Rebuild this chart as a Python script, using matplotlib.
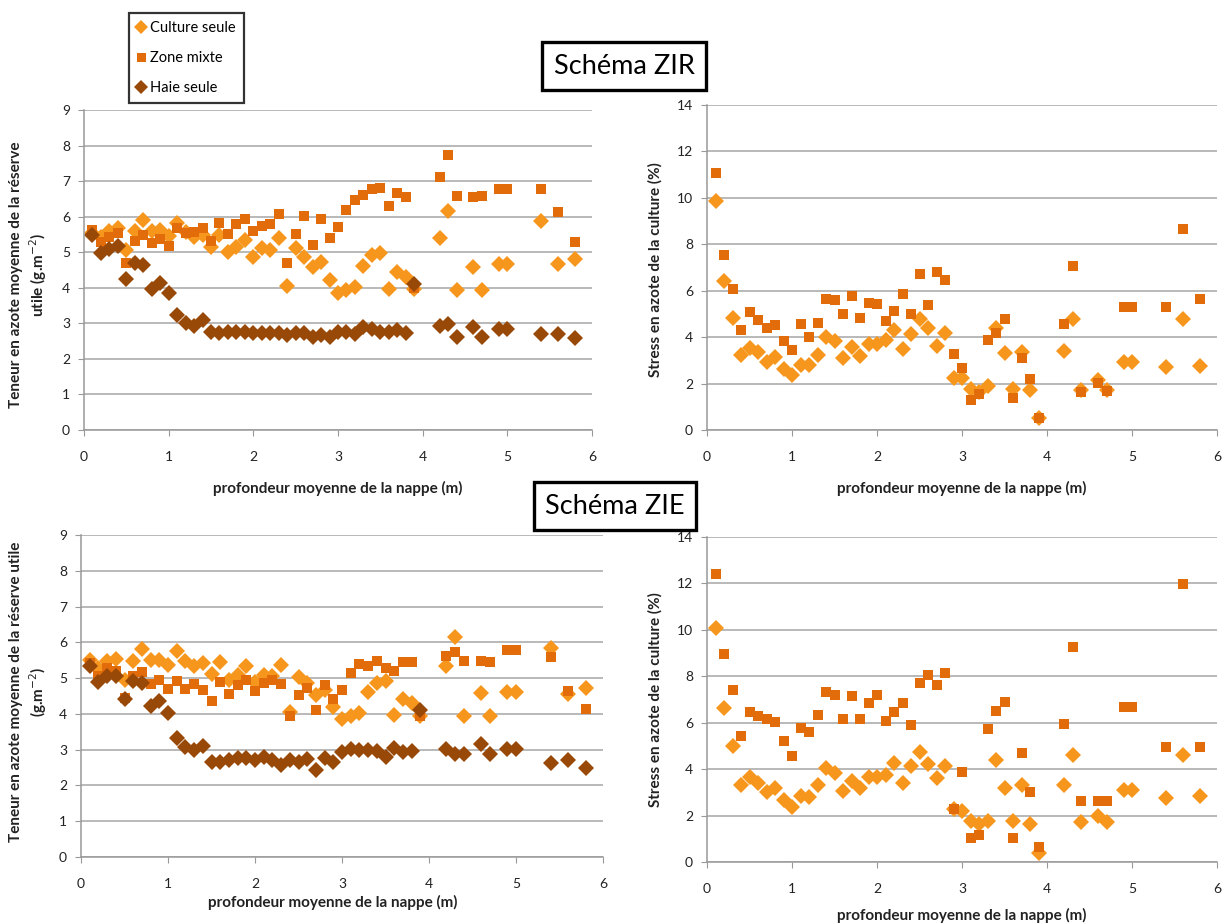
import numpy as np
import matplotlib
matplotlib.use('Agg')
import matplotlib.pyplot as plt

plt.rcParams['font.family'] = ['Lato', 'DejaVu Sans']

# profondeur moyenne de la nappe (m)
depth = [0.1, 0.2, 0.3, 0.4, 0.5, 0.6, 0.7, 0.8, 0.9, 1.0,
         1.1, 1.2, 1.3, 1.4, 1.5, 1.6, 1.7, 1.8, 1.9, 2.0,
         2.1, 2.2, 2.3, 2.4, 2.5, 2.6, 2.7, 2.8, 2.9, 3.0,
         3.1, 3.2, 3.3, 3.4, 3.5, 3.6, 3.7, 3.8, 3.9,
         4.2, 4.3, 4.4, 4.6, 4.7, 4.9, 5.0, 5.4, 5.6, 5.8]

# Schéma ZIR - teneur en azote (g.m-2)
culture_zir_n = [5.53, 5.42, 5.60, 5.67, 5.06, 5.60, 5.90, 5.60, 5.62, 5.45,
                 5.81, 5.58, 5.42, 5.48, 5.15, 5.48, 5.01, 5.15, 5.34, 4.87,
                 5.11, 5.06, 5.39, 4.05, 5.11, 4.87, 4.59, 4.73, 4.22, 3.86,
                 3.94, 4.01, 4.62, 4.92, 4.99, 3.96, 4.45, 4.31, 3.96,
                 5.39, 6.16, 3.94, 4.59, 3.94, 4.66, 4.66, 5.88, 4.66, 4.80]
zone_zir_n = [5.62, 5.30, 5.44, 5.53, 4.69, 5.32, 5.48, 5.25, 5.36, 5.17,
              5.67, 5.53, 5.58, 5.67, 5.32, 5.81, 5.51, 5.79, 5.93, 5.60,
              5.74, 5.79, 6.07, 4.71, 5.51, 6.03, 5.20, 5.93, 5.39, 5.72,
              6.19, 6.47, 6.61, 6.79, 6.81, 6.30, 6.67, 6.54, 3.98,
              7.12, 7.73, 6.58, 6.54, 6.58, 6.78, 6.78, 6.79, 6.14, 5.30]
haie_zir_n = [5.48, 4.99, 5.09, 5.17, 4.24, 4.70, 4.64, 3.97, 4.14, 3.84,
              3.23, 3.02, 2.92, 3.09, 2.76, 2.74, 2.76, 2.76, 2.76, 2.72,
              2.74, 2.74, 2.74, 2.67, 2.74, 2.72, 2.61, 2.67, 2.62, 2.76,
              2.76, 2.69, 2.91, 2.84, 2.76, 2.76, 2.81, 2.74, 4.12,
              2.93, 2.98, 2.61, 2.91, 2.61, 2.84, 2.84, 2.69, 2.69, 2.58]

# Schéma ZIR - stress en azote (%)
culture_zir_s = [9.88, 6.42, 4.84, 3.23, 3.52, 3.37, 2.91, 3.13, 2.61, 2.37,
                 2.80, 2.80, 3.23, 3.99, 3.85, 3.09, 3.59, 3.19, 3.69, 3.69,
                 3.88, 4.31, 3.47, 4.12, 4.78, 4.41, 3.62, 4.16, 2.23, 2.23,
                 1.75, 1.65, 1.90, 4.41, 3.30, 1.78, 3.35, 1.72, 0.50,
                 3.42, 4.78, 1.72, 2.15, 1.72, 2.91, 2.91, 2.70, 4.78, 2.77]
zone_zir_s = [11.08, 7.54, 6.07, 4.31, 5.07, 4.74, 4.41, 4.52, 3.85, 3.45,
              4.55, 4.02, 4.59, 5.64, 5.60, 4.98, 5.77, 4.81, 5.48, 5.43,
              4.71, 5.14, 5.86, 4.98, 6.70, 5.38, 6.82, 6.46, 3.26, 2.66,
              1.29, 1.54, 3.88, 4.19, 4.78, 1.36, 3.09, 2.20, 0.50,
              4.55, 7.06, 1.65, 2.01, 1.68, 5.31, 5.31, 5.31, 8.66, 5.64]

# Schéma ZIE - teneur en azote (g.m-2)
culture_zie_n = [5.51, 5.28, 5.47, 5.53, 4.95, 5.48, 5.81, 5.51, 5.51, 5.37,
                 5.77, 5.47, 5.34, 5.42, 5.12, 5.44, 4.95, 5.09, 5.33, 4.88,
                 5.09, 5.05, 5.37, 4.04, 5.02, 4.86, 4.53, 4.67, 4.18, 3.86,
                 3.93, 4.02, 4.61, 4.86, 4.93, 3.98, 4.41, 4.30, 3.93,
                 5.35, 6.15, 3.93, 4.58, 3.93, 4.61, 4.61, 5.84, 4.56, 4.72]
zone_zie_n = [5.42, 5.05, 5.28, 5.19, 4.45, 5.07, 5.17, 4.84, 4.95, 4.69,
              4.93, 4.70, 4.83, 4.66, 4.35, 4.89, 4.56, 4.81, 4.95, 4.65,
              4.86, 4.95, 4.83, 3.93, 4.52, 4.72, 4.10, 4.80, 4.42, 4.68,
              5.14, 5.40, 5.35, 5.48, 5.28, 5.21, 5.44, 5.44, 3.95,
              5.61, 5.72, 5.47, 5.48, 5.44, 5.79, 5.79, 5.59, 4.65, 4.14]
haie_zie_n = [5.34, 4.88, 5.05, 5.07, 4.42, 4.93, 4.86, 4.23, 4.35, 4.02,
              3.32, 3.07, 3.00, 3.09, 2.65, 2.65, 2.72, 2.78, 2.78, 2.70,
              2.79, 2.72, 2.56, 2.72, 2.65, 2.74, 2.44, 2.77, 2.65, 2.93,
              3.02, 3.00, 3.00, 2.95, 2.79, 3.04, 2.93, 2.95, 4.12,
              3.02, 2.88, 2.88, 3.17, 2.88, 3.02, 3.02, 2.63, 2.70, 2.49]

# Schéma ZIE - stress en azote (%)
culture_zie_s = [10.09, 6.64, 4.99, 3.33, 3.65, 3.41, 3.00, 3.19, 2.69, 2.37,
                 2.86, 2.80, 3.30, 4.05, 3.84, 3.05, 3.51, 3.19, 3.65, 3.65,
                 3.76, 4.27, 3.41, 4.12, 4.74, 4.22, 3.62, 4.12, 2.28, 2.20,
                 1.75, 1.62, 1.75, 4.38, 3.19, 1.75, 3.30, 1.65, 0.39,
                 3.30, 4.63, 1.71, 1.97, 1.71, 3.09, 3.09, 2.76, 4.63, 2.83]
zone_zie_s = [12.41, 8.98, 7.39, 5.42, 6.45, 6.28, 6.14, 6.02, 5.20, 4.58,
              5.78, 5.59, 6.35, 7.33, 7.21, 6.14, 7.17, 6.14, 6.85, 7.18,
              6.06, 6.47, 6.85, 5.89, 7.72, 8.07, 7.64, 8.15, 2.28, 3.86,
              1.03, 1.18, 5.74, 6.49, 6.88, 1.03, 4.70, 3.00, 0.63,
              5.96, 9.27, 2.61, 2.61, 2.61, 6.68, 6.68, 4.94, 11.98, 4.96]

c_culture = '#F7961C'
c_zone = '#E36C0A'
c_haie = '#984807'

W, H = 1223, 924
fig = plt.figure(figsize=(W / 100, H / 100), dpi=100)


def make_ax(left, right, top, bottom, ymax, ystep):
    ax = fig.add_axes([left / W, 1 - bottom / H, (right - left) / W, (bottom - top) / H])
    ax.set_xlim(0, 6)
    ax.set_ylim(0, ymax)
    ax.set_xticks(range(0, 7))
    ax.set_yticks(np.arange(0, ymax + 1, ystep))
    ax.yaxis.grid(True, color='#A6A6A6', lw=1.1)
    ax.set_axisbelow(True)
    for s in ['top', 'right']:
        ax.spines[s].set_visible(False)
    for s in ['left', 'bottom']:
        ax.spines[s].set_color('#999999')
        ax.spines[s].set_linewidth(1.1)
    ax.tick_params(axis='both', direction='out', length=4, color='#999999',
                   labelsize=10, labelcolor='#222222')
    ax.tick_params(axis='x', pad=11)
    ax.tick_params(axis='y', pad=6)
    return ax


def draw(ax, culture, zone, haie=None):
    ax.plot(depth, culture, 'D', ms=7.8, mew=0, color=c_culture, label='Culture seule')
    ax.plot(depth, zone, 's', ms=7.2, mew=0, color=c_zone, label='Zone mixte')
    if haie is not None:
        ax.plot(depth, haie, 'D', ms=7.8, mew=0, color=c_haie, label='Haie seule')


ax1 = make_ax(84, 592, 110, 430, 9, 1)
draw(ax1, culture_zir_n, zone_zir_n, haie_zir_n)
ax2 = make_ax(707, 1217, 105, 430, 14, 2)
draw(ax2, culture_zir_s, zone_zir_s)
ax3 = make_ax(81, 603, 535, 857, 9, 1)
draw(ax3, culture_zie_n, zone_zie_n, haie_zie_n)
ax4 = make_ax(707, 1217, 537, 862, 14, 2)
draw(ax4, culture_zie_s, zone_zie_s)


def ftext(x, y, s, **kw):
    fig.text(x / W, 1 - y / H, s, **kw)


lab = dict(fontsize=11, fontweight='bold', color='#222222', ha='center', va='center')
ftext(338, 488, 'profondeur moyenne de la nappe (m)', **lab)
ftext(962, 488, 'profondeur moyenne de la nappe (m)', **lab)
ftext(333, 902, 'profondeur moyenne de la nappe (m)', **lab)
ftext(962, 915, 'profondeur moyenne de la nappe (m)', **lab)
ftext(29, 275, 'Teneur en azote moyenne de la réserve\nutile (g.m$^{-2}$)',
      rotation=90, multialignment='center', linespacing=1.25, **lab)
ftext(29, 692, 'Teneur en azote moyenne de la réserve utile\n(g.m$^{-2}$)',
      rotation=90, multialignment='center', linespacing=1.25, **lab)
ftext(655, 270, 'Stress en azote de la culture (%)', rotation=90, **lab)
ftext(655, 700, 'Stress en azote de la culture (%)', rotation=90, **lab)

box = dict(boxstyle='square,pad=0.42', fc='white', ec='black', lw=2.4)
ftext(624, 66, 'Schéma ZIR', fontsize=19.5, ha='center', va='center', bbox=box)
ftext(615, 506, 'Schéma ZIE', fontsize=19.5, ha='center', va='center', bbox=box)

handles, labels = ax1.get_legend_handles_labels()
leg = fig.legend(handles, labels, loc='upper left', bbox_to_anchor=(129 / W, 1 - 13 / H),
                 borderaxespad=0, fontsize=10.5, frameon=True, fancybox=False,
                 numpoints=1, handlelength=0.6, handletextpad=0.3, labelspacing=1.1,
                 borderpad=0.55, markerscale=0.9)
leg.get_frame().set_edgecolor('black')
leg.get_frame().set_linewidth(1.6)

fig.savefig('out.png', dpi=100, facecolor='white')
